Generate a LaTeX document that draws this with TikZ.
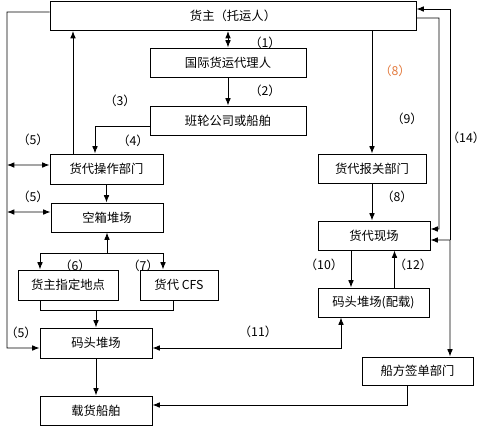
\documentclass[tikz,border=0pt]{standalone}
\usepackage{fontspec}
\newfontfamily\cjk{Noto Sans CJK SC}
\usetikzlibrary{arrows.meta}
\definecolor{stamp}{RGB}{226,122,62}
\begin{document}
\begin{tikzpicture}[x=0.3mm, y=-0.3mm, font=\cjk\fontsize{10.5}{12}\selectfont,
    box/.style={draw, line width=0.8pt, inner sep=0pt, minimum height=29*0.3mm},
    lbl/.style={inner sep=0pt},
    arr/.style={line width=0.8pt, -{Latex[length=2.2mm,width=1.7mm]}},
    dbl/.style={line width=0.8pt, {Latex[length=2.2mm,width=1.7mm]}-{Latex[length=2.2mm,width=1.7mm]}}]
    \useasboundingbox (0,0) rectangle (500,426);

    % left column
    \node[box, minimum width=366*0.3mm] (owner) at (233,16) {货主（托运人）};
    \node[box, minimum width=156*0.3mm] (agent) at (228,62.5) {国际货运代理人};
    \node[box, minimum width=156*0.3mm] (carrier) at (228,120.5) {班轮公司或船舶};
    \node[box, minimum width=113*0.3mm, minimum height=30*0.3mm] (ops) at (106.5,169) {货代操作部门};
    \node[box, minimum width=112*0.3mm] (empty) at (107,217.5) {空箱堆场};
    \node[box, minimum width=100*0.3mm, minimum height=30*0.3mm] (site) at (68,285) {货主指定地点};
    \node[box, minimum width=78*0.3mm, minimum height=30*0.3mm] (cfs) at (179,285) {货代 CFS};
    \node[box, minimum width=112*0.3mm, minimum height=30*0.3mm] (yard) at (96,343) {码头堆场};
    \node[box, minimum width=112*0.3mm] (ship) at (96,410.5) {载货船舶};

    % right column
    \node[box, minimum width=108*0.3mm] (customs) at (372,168.5) {货代报关部门};
    \node[box, minimum width=112*0.3mm] (field) at (374,235.5) {货代现场};
    \node[box, minimum width=111*0.3mm] (stow) at (373.5,302.5) {码头堆场(配载)};
    \node[box, minimum width=111*0.3mm, minimum height=28*0.3mm] (sign) at (417.5,371) {船方签单部门};

    \coordinate (busL) at (7,0);
    \coordinate (busR) at (439,0);
    \coordinate (t14) at (450,240);
    \coordinate (jn) at (107,253); % split below the empty yard
    \coordinate (mg) at (96,310);

    \draw[dbl] (owner.south -| agent) -- (agent.north);
    \draw[arr] (agent) -- (carrier);
    \draw[arr] ([yshift=-1.65mm]carrier.west) -| ([xshift=-3.45mm]ops.north);
    \draw[arr] ([xshift=-10.05mm]ops.north) -- ([xshift=-10.05mm]ops.north |- owner.south);
    \draw[arr] ([yshift=1.2mm]owner.west) -| (busL |- 0,348) -- ([yshift=-1.5mm]yard.west);
    \draw[dbl] (busL |- 0,165) -- ([yshift=1.2mm]ops.west);
    \draw[dbl] (busL |- 0,212) -- ([yshift=1.65mm]empty.west);
    \draw[arr] (ops.south) -- (ops.south |- empty.north);
    \draw[arr] (jn) -- (empty.south);
    \draw[arr] (jn) -| ([xshift=-8.4mm]site.north);
    \draw[arr] (jn) -| ([xshift=-4.8mm]cfs.north);
    \draw[line width=0.8pt] ([xshift=-8.4mm]site.south) |- (mg) -| ([xshift=-1.8mm]cfs.south);
    \draw[arr] (mg) -- (yard.north);
    \draw[arr] (yard) -- (ship);
    \draw[dbl] ([yshift=-1.5mm]yard.east) -| ([xshift=-9.75mm]stow.south);

    \draw[arr] (owner.south -| customs) -- (customs.north);
    \draw[arr] (customs.south) -- (customs.south |- field.north);
    \draw[arr] ([xshift=-6.9mm]field.south) -- ([xshift=-6.9mm]field.south |- stow.north);
    \draw[arr] ([xshift=6.3mm]stow.north) -- ([xshift=6.3mm]stow.north |- field.south);
    \draw[arr] ([yshift=-0.6mm]owner.east) -| (busR |- 0,229) -- ([yshift=1.95mm]field.east);
    \draw[arr] (t14) |- ([yshift=2.1mm]owner.east);
    \draw[arr] (t14) -- ([yshift=-1.35mm]field.east);
    \draw[arr] (t14) -- ([xshift=9.75mm]sign.north);
    \draw[arr] ([xshift=-3.15mm]sign.south) |- ([yshift=1.65mm]ship.east);

    % step labels
    \node[lbl] (l1) at (265,43) {（1）};
    \node[lbl] (l2) at (265,91) {（2）};
    \node[lbl] (l3) at (120,101) {（3）};
    \node[lbl] (l4) at (133,141) {（4）};
    \node[lbl] (l5a) at (33,140) {（5）};
    \node[lbl] (l5b) at (33,197) {（5）};
    \node[lbl] (l5c) at (21,333) {（5）};
    \node[lbl] (l6) at (75,266) {（6）};
    \node[lbl] (l7) at (143,266) {（7）};
    \node[lbl, text=stamp] (l8a) at (395,71) {（8）};
    \node[lbl] (l9) at (407,119) {（9）};
    \node[lbl] (l14) at (466,138) {（14）};
    \node[lbl] (l8b) at (397,197) {（8）};
    \node[lbl] (l10) at (324,265) {（10）};
    \node[lbl] (l12) at (413,265) {（12）};
    \node[lbl] (l11) at (258,332) {（11）};
\end{tikzpicture}
\end{document}
